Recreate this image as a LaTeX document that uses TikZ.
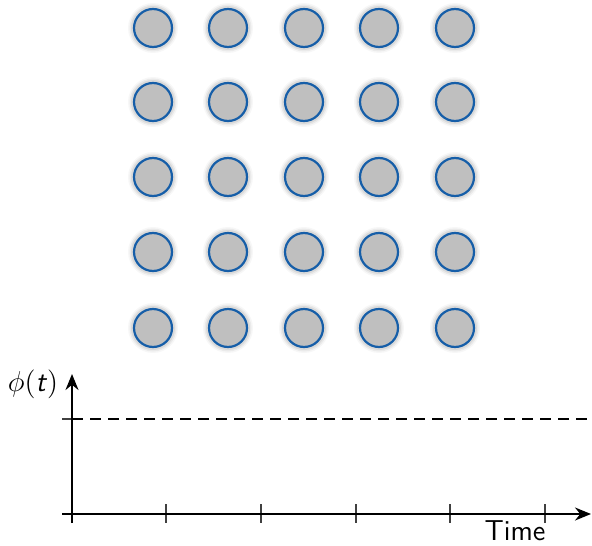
\documentclass[tikz,border=0pt]{standalone}
\usetikzlibrary{arrows.meta}
\definecolor{dotblue}{RGB}{22,94,168}
\begin{document}
\begin{tikzpicture}[x=0.5pt,y=-0.5pt, every node/.style={font=\Large\sffamily},
  dot/.style={circle,draw=dotblue,line width=1.1pt,fill=black!25,minimum size=19pt,inner sep=0pt},
  axis/.style={line width=1pt,-{Stealth[length=8pt,width=6.5pt]}},
  tick/.style={black!75,line width=0.6pt}]
\useasboundingbox (0,0) rectangle (592,545);
\foreach \i/\x in {1/153,2/228,3/304,4/379,5/455}
  \foreach \j/\y in {1/28,2/102,3/177,4/252,5/328} {
    \foreach \r/\o in {25/0.03,23.5/0.05,22/0.07} \fill[black,opacity=\o] (\x,\y) circle[radius=\r];
    \node[dot] (c\i\j) at (\x,\y) {};
  }
\coordinate (ybot) at (72,523);
\coordinate (ytop) at (72,374);
\coordinate (xbeg) at (62,514);
\coordinate (xend) at (591,514);
\coordinate (lvl) at (62,419);
\coordinate (lvlend) at (592,419);
\draw[tick] (lvl) -- ++(20,0);
\draw[line width=1pt,dash pattern=on 5.5pt off 3.5pt] (72,419) -- (lvlend);
\foreach \x in {166,261,356,450,545} \draw[tick] (\x,504) -- (\x,523);
\draw[line width=1pt] (ybot) -- (72,514);
\draw[axis] (xbeg) -- (xend);
\draw[axis] (72,514) -- (ytop);
\node (phi) at (33,384) {$\phi($\textit{t}$)$};
\node (time) at (515,531) {Time};
\end{tikzpicture}
\end{document}
